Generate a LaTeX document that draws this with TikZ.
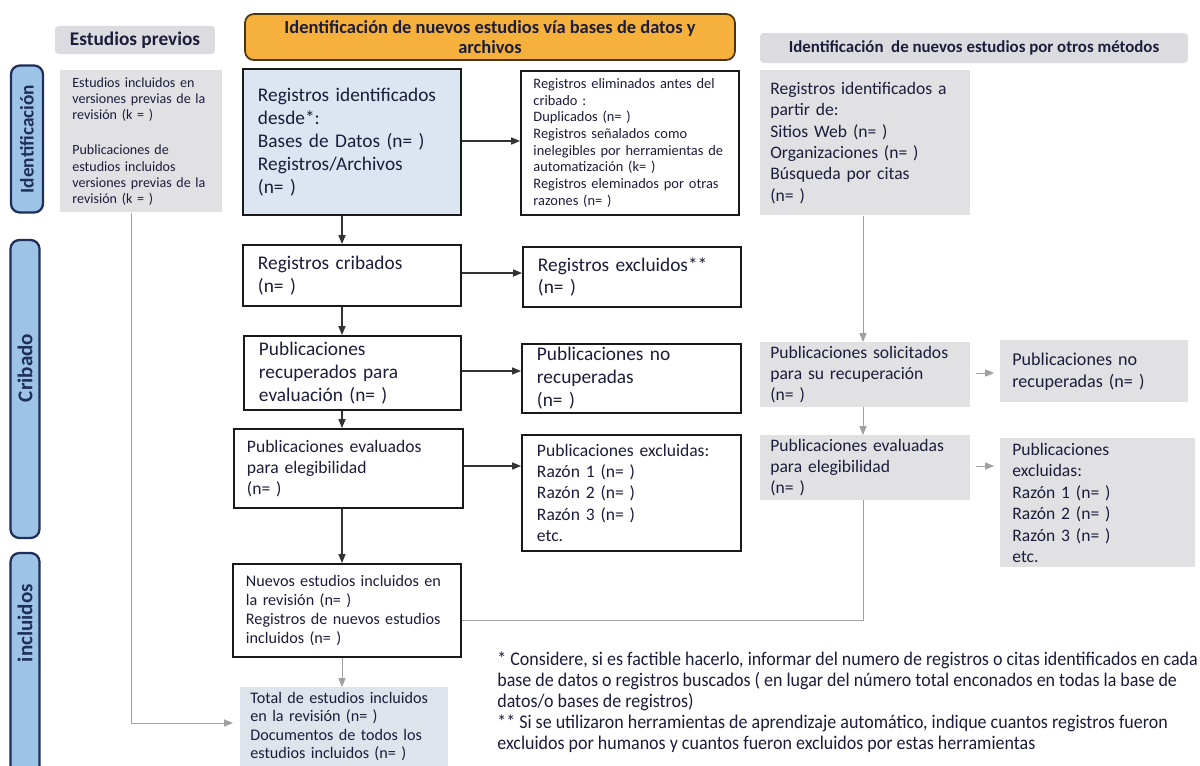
\documentclass[tikz,border=0pt]{standalone}
\usepackage{fontspec}
\setmainfont{Carlito}
\newfontfamily\condfont{Carlito}[FakeStretch=0.93]
\usetikzlibrary{arrows.meta}
\definecolor{txt}{HTML}{1B1D3A}
\definecolor{navy}{HTML}{1F2F5A}
\definecolor{sideblue}{HTML}{9DC3E6}
\definecolor{idblue}{HTML}{DCE6F2}
\definecolor{grayfill}{HTML}{E1E1E4}
\definecolor{hdrgray}{HTML}{DCDCE0}
\definecolor{orangefill}{HTML}{F5B13C}
\definecolor{orangeedge}{HTML}{4A3410}
\definecolor{connblack}{HTML}{333333}
\definecolor{conngray}{HTML}{A0A0A4}
\colorlet{totalfill}{idblue!60!grayfill}
\tikzset{
  mainbox/.style={draw=black!90, line width=1.1pt, anchor=north west, align=left,
    inner xsep=0.3cm, inner ysep=2pt, text=txt},
  graybox/.style={fill=grayfill, anchor=north west, align=left,
    inner xsep=0.2cm, inner ysep=2pt, text=txt},
  sidelabel/.style={rotate=90, draw=navy, line width=1.3pt, fill=sideblue,
    rounded corners=5pt, text=navy, inner sep=0pt},
  arr/.style={draw=connblack, line width=0.6pt, -{Triangle[length=5pt,width=4pt]}},
  garr/.style={draw=conngray, line width=0.5pt, -{Triangle[length=5pt,width=4pt]}},
  gline/.style={draw=conngray, line width=0.5pt},
  fL/.style={font=\fontsize{11}{13}\selectfont},
  fM/.style={font=\fontsize{10}{12}\selectfont},
  fN/.style={font=\fontsize{9.2}{10.9}\selectfont},
}
\begin{document}
\begin{tikzpicture}[x=0.02cm, y=-0.02cm]
\clip (0,0) rectangle (1200,765);
\fill[white] (0,0) rectangle (1200,765);

% side labels
\node[sidelabel, minimum width=2.94cm, minimum height=0.64cm, font=\bfseries\fontsize{11}{13}\selectfont] (lid) at (27,139) {Identificación};
\node[sidelabel, minimum width=5.96cm, minimum height=0.58cm, font=\bfseries\fontsize{12}{14}\selectfont] (lcr) at (25,389) {\hspace*{0.84cm}Cribado};
\node[sidelabel, minimum width=4.6cm, minimum height=0.58cm, font=\bfseries\fontsize{12}{14}\selectfont] (lin) at (25,668) {\hspace*{1.8cm}incluidos};

% headers
\node[fill=hdrgray, rounded corners=2pt, minimum width=3.2cm, minimum height=0.48cm, text=txt,
  font=\bfseries\fontsize{11}{13}\selectfont] (hprev) at (135,40) {Estudios previos};
\node[fill=orangefill, draw=orangeedge, line width=1pt, rounded corners=5pt, minimum width=9.8cm,
  minimum height=0.92cm, text=txt, align=center, inner sep=1pt,
  font=\bfseries\fontsize{10.5}{11.3}\selectfont] (hmain) at (490,37)
  {Identificación de nuevos estudios vía bases de datos y\\archivos};
\node[fill=hdrgray, rounded corners=2pt, minimum width=8.56cm, minimum height=0.6cm, text=txt,
  font=\bfseries\fontsize{9.6}{11}\selectfont] (hother) at (974,48)
  {Identificación\ \ de nuevos estudios por otros métodos};

% previous studies
\node[graybox, font=\fontsize{8}{9.2}\selectfont, inner xsep=0.24cm, inner ysep=1pt, text width=2.76cm, minimum height=2.84cm] (prev) at (60,70)
  {Estudios incluidos en\\versiones previas de la\\revisión (k = )\\[11pt]Publicaciones de\\estudios incluidos\\versiones previas de la\\revisión (k = )};

% main column
\node[mainbox, fL, fill=idblue, text width=3.76cm, minimum height=2.92cm] (id) at (242,68)
  {Registros identificados\\desde*:\\Bases de Datos (n= )\\Registros/Archivos\\(n= )};
\node[mainbox, font=\fontsize{8.2}{9.5}\selectfont, inner xsep=0.25cm, inner ysep=1pt, text width=3.86cm, minimum height=2.88cm] (elim) at (520,70)
  {Registros eliminados antes del\\cribado :\\Duplicados (n= )\\Registros señalados como\\inelegibles por herramientas de\\automatización (k= )\\Registros eleminados por otras\\razones (n= )};
\node[mainbox, fL, text width=3.76cm, minimum height=1.22cm] (crib) at (242,244)
  {Registros cribados\\(n= )};
\node[mainbox, fL, text width=3.76cm, minimum height=1.2cm] (excl) at (522,246)
  {Registros excluidos**\\(n= )};
\node[mainbox, fL, text width=3.74cm, minimum height=1.48cm] (recup) at (243,335)
  {Publicaciones\\recuperados para\\evaluación (n= )};
\node[mainbox, fL, text width=3.78cm, minimum height=1.22cm] (norecup) at (521,343)
  {Publicaciones no\\recuperadas\\(n= )};
\node[mainbox, fM, inner xsep=0.26cm, text width=4.06cm, minimum height=1.58cm] (eval) at (233,428)
  {Publicaciones evaluados\\para elegibilidad\\(n= )};
\node[mainbox, fM, text width=3.78cm, minimum height=2.32cm] (exclu) at (521,434)
  {Publicaciones excluidas:\\Razón 1 (n= )\\Razón 2 (n= )\\Razón 3 (n= )\\etc.};
\node[mainbox, fN, inner xsep=0.26cm, text width=4.04cm, minimum height=1.86cm] (nuevos) at (232,563)
  {Nuevos estudios incluidos en\\la revisión (n= )\\Registros de nuevos estudios\\incluidos (n= )};
% total box: its fill runs on past the lower edge of the picture
\fill[totalfill] (240,740) rectangle (448,770);
\node[graybox, font=\fontsize{9.2}{10.3}\selectfont, fill=totalfill, inner xsep=0.2cm, inner ysep=3pt, text width=3.76cm] (total) at (240,687)
  {Total de estudios incluidos\\en la revisión (n= )\\Documentos de todos los\\estudios incluidos (n= )};

% other methods column
\node[graybox, font=\fontsize{10}{12.2}\selectfont, text width=3.8cm, minimum height=2.9cm] (oid) at (760,70)
  {Registros identificados a\\partir de:\\Sitios Web (n= )\\Organizaciones (n= )\\Búsqueda por citas\\(n= )};
\node[graybox, font=\fontsize{10}{12.2}\selectfont, text width=3.8cm, minimum height=1.26cm] (solic) at (760,342)
  {Publicaciones solicitados\\para su recuperación\\(n= )};
\node[graybox, font=\fontsize{10.3}{12.4}\selectfont, inner xsep=0.24cm, text width=3.28cm, minimum height=1.24cm] (norec2) at (1000,340)
  {Publicaciones no\\recuperadas (n= )};
\node[graybox, font=\fontsize{10}{12.2}\selectfont, text width=3.8cm, minimum height=1.24cm] (eval2) at (760,435)
  {Publicaciones evaluadas\\para elegibilidad\\(n= )};
\node[graybox, font=\fontsize{10}{12.2}\selectfont, inner xsep=0.24cm, text width=3.42cm, minimum height=2.58cm] (excl2) at (1000,438)
  {Publicaciones\\excluidas:\\Razón 1 (n= )\\Razón 2 (n= )\\Razón 3 (n= )\\etc.};

% footnote
\node[anchor=north west, align=left, text=txt, inner sep=0pt,
  font=\condfont\fontsize{11}{12}\selectfont] (foot) at (497,651)
  {* Considere, si es factible hacerlo, informar del numero de registros o citas identificados en cada\\
   base de datos o registros buscados ( en lugar del número total enconados en todas la base de\\
   datos/o bases de registros)\\
   ** Si se utilizaron herramientas de aprendizaje automático, indique cuantos registros fueron\\
   excluidos por humanos y cuantos fueron excluidos por estas herramientas};

% connectors, main column
\coordinate (mx) at (342,0);
\coordinate (rx) at (863,0);
\coordinate (px) at (131,0);
\draw[arr] (id.east |- 0,141) -- (elim.west |- 0,141);
\draw[arr] (id.south -| mx) -- (crib.north -| mx);
\draw[arr] (crib.east |- 0,273) -- (excl.west |- 0,273);
\draw[arr] (crib.south -| mx) -- (recup.north -| mx);
\draw[arr] (recup.east |- 0,371) -- (norecup.west |- 0,371);
\draw[arr] (recup.south -| mx) -- (eval.north -| mx);
\draw[arr] (eval.east |- 0,466) -- (exclu.west |- 0,466);
\draw[arr] (eval.south -| mx) -- (nuevos.north -| mx);
\draw[garr] (nuevos.south -| mx) -- (total.north -| mx);
% previous studies to total
\draw[garr] (prev.south -| px) |- ([xshift=-0.14cm]total.west |- 0,723);
% other methods
\draw[garr] (oid.south -| rx) -- (solic.north -| rx);
\draw[garr] (solic.south -| rx) -- (eval2.north -| rx);
\draw[garr] ([xshift=0.1cm]solic.east |- 0,373) -- ([xshift=-0.12cm]norec2.west |- 0,373);
\draw[garr] ([xshift=0.1cm]eval2.east |- 0,466) -- ([xshift=-0.12cm]excl2.west |- 0,466);
\draw[gline] (eval2.south -| rx) |- (nuevos.east |- 0,620);
\end{tikzpicture}
\end{document}
